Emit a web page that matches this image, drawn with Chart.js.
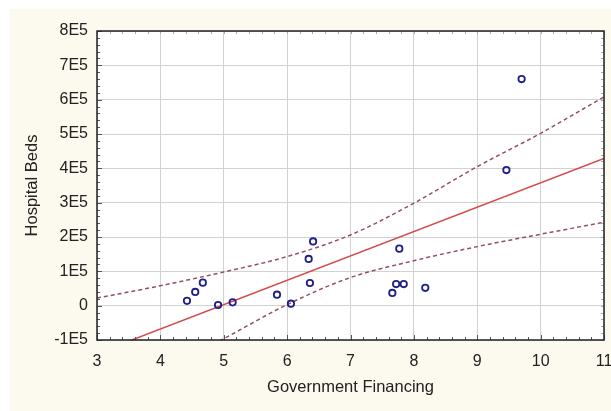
<!DOCTYPE html>
<html>
<head>
<meta charset="utf-8">
<script src="https://cdn.jsdelivr.net/npm/chart.js@4/dist/chart.umd.min.js"></script>
<style>
  html, body { margin: 0; padding: 0; background: #fff; }
  #wrap { width: 611px; height: 411px; }
</style>
</head>
<body>
<div id="wrap"><canvas id="myChart" width="611" height="411"></canvas></div>
<script>
// scatter with fitted line and 95% bands

const financing = [4.42, 4.55, 4.67, 4.91, 5.14, 5.84, 6.06, 6.34, 6.36, 6.41, 7.66, 7.72, 7.77, 7.84, 8.18, 9.46, 9.70];
const beds = [14000, 40000, 67000, 2000, 9600, 32000, 5800, 136000, 66000, 187000, 37000, 63000, 166000, 63000, 52000, 395000, 660000];

const fitX = [3, 11];
const fitY = [-139000, 429000];

const bandX = [3, 4, 5, 6, 7, 8, 9, 10, 11];
const upperY = [22000, 58000, 98000, 143000, 206000, 298500, 405000, 502000, 608000];
const lowerY = [-300000, -190000, -96000, 3000, 82000, 131000, 172000, 208000, 243000];

const xTicks = [3, 4, 5, 6, 7, 8, 9, 10, 11];
const yTicks = [-100000, 0, 100000, 200000, 300000, 400000, 500000, 600000, 700000, 800000];

const pts = (xs, ys) => xs.map((x, i) => ({x: x, y: ys[i]}));

const frame = {
    id: 'frame',
    beforeDraw(chart) {
        const c = chart.ctx, a = chart.chartArea;
        c.save();
        c.fillStyle = '#ffffff';
        c.fillRect(0, 0, chart.width, chart.height);
        c.fillStyle = '#fcf9ef';
        c.fillRect(10, 9, chart.width - 10, chart.height - 9);
        c.fillStyle = '#ffffff';
        c.fillRect(a.left, a.top, a.right - a.left, a.bottom - a.top);
        c.restore();
    },
    afterDraw(chart) {
        const c = chart.ctx, a = chart.chartArea;
        const xs = chart.scales.x, ys = chart.scales.y;
        c.save();
        // minor ticks
        c.strokeStyle = '#555';
        c.lineWidth = 1;
        c.beginPath();
        for (let v = 3; v <= 11.001; v += 0.2) {
            const px = Math.round(xs.getPixelForValue(v)) + 0.5;
            const major = Math.abs(v - Math.round(v)) < 0.01;
            const len = major ? 5 : 3;
            c.moveTo(px, a.bottom); c.lineTo(px, a.bottom - len);
        }
        for (let v = -100000; v <= 800001; v += 20000) {
            const py = Math.round(ys.getPixelForValue(v)) + 0.5;
            const major = Math.abs(v % 100000) < 1;
            const len = major ? 5 : 3;
            c.moveTo(a.left, py); c.lineTo(a.left + len, py);
        }
        c.stroke();
        c.strokeStyle = '#aaa';
        c.beginPath();
        for (let v = 3; v <= 11.001; v += 0.2) {
            const px = Math.round(xs.getPixelForValue(v)) + 0.5;
            c.moveTo(px, a.top); c.lineTo(px, a.top + 3);
        }
        for (let v = -100000; v <= 800001; v += 20000) {
            const py = Math.round(ys.getPixelForValue(v)) + 0.5;
            c.moveTo(a.right, py); c.lineTo(a.right - 3, py);
        }
        c.stroke();
        // border
        c.strokeStyle = '#222';
        c.lineWidth = 1.5;
        c.strokeRect(a.left, a.top, a.right - a.left, a.bottom - a.top);
        c.restore();
    }
};

const myChart = document.getElementById('myChart');

new Chart(myChart, {
    type: 'scatter',
    data: {
        datasets: [
            {
                label: 'Hospital Beds',
                data: pts(financing, beds),
                pointStyle: 'circle',
                pointRadius: 3.2,
                pointBorderWidth: 1.8,
                pointBorderColor: '#1f1f8c',
                pointBackgroundColor: 'rgba(255,255,255,0)',
                order: 0
            },
            {
                label: 'fit',
                type: 'line',
                data: pts(fitX, fitY),
                borderColor: '#d24a4a',
                borderWidth: 1.5,
                pointRadius: 0,
                fill: false,
                order: 1
            },
            {
                label: 'upper',
                type: 'line',
                data: pts(bandX, upperY),
                borderColor: '#96505a',
                borderWidth: 1.5,
                borderDash: [4, 3],
                cubicInterpolationMode: 'monotone',
                pointRadius: 0,
                fill: false,
                order: 2
            },
            {
                label: 'lower',
                type: 'line',
                data: pts(bandX, lowerY),
                borderColor: '#96505a',
                borderWidth: 1.5,
                borderDash: [4, 3],
                cubicInterpolationMode: 'monotone',
                pointRadius: 0,
                fill: false,
                order: 2
            }
        ]
    },
    options: {
        responsive: false,
        animation: false,
        events: [],
        layout: { padding: { left: 0, top: 31, right: 7, bottom: 0 } },
        plugins: {
            legend: { display: false },
            tooltip: { enabled: false }
        },
        scales: {
            x: {
                type: 'linear',
                min: 3,
                max: 11,
                afterBuildTicks: (s) => { s.ticks = xTicks.map(v => ({value: v})); },
                afterFit: (s) => { s.height = 71; s.paddingLeft = 0; s.paddingRight = 0; },
                grid: { color: '#d2d2d2', lineWidth: 1, drawTicks: false },
                border: { display: false },
                ticks: {
                    color: '#222',
                    padding: 12,
                    maxRotation: 0,
                    font: { family: 'Liberation Sans, Arial, sans-serif', size: 16 }
                },
                title: {
                    display: true,
                    text: 'Government Financing',
                    color: '#222',
                    padding: { top: 0, bottom: 14 },
                    font: { family: 'Liberation Sans, Arial, sans-serif', size: 16.5 }
                }
            },
            y: {
                type: 'linear',
                min: -100000,
                max: 800000,
                afterBuildTicks: (s) => { s.ticks = yTicks.map(v => ({value: v})); },
                afterFit: (s) => { s.width = 97; },
                grid: { color: '#d2d2d2', lineWidth: 1, drawTicks: false },
                border: { display: false },
                ticks: {
                    color: '#222',
                    padding: 9,
                    font: { family: 'Liberation Sans, Arial, sans-serif', size: 16 },
                    callback: (v) => v === 0 ? '0' : (v / 100000) + 'E5'
                },
                title: {
                    display: true,
                    text: 'Hospital Beds',
                    color: '#222',
                    padding: { top: 23, bottom: 0 },
                    font: { family: 'Liberation Sans, Arial, sans-serif', size: 16.5 }
                }
            }
        }
    },
    plugins: [frame]
});
</script>
</body>
</html>
